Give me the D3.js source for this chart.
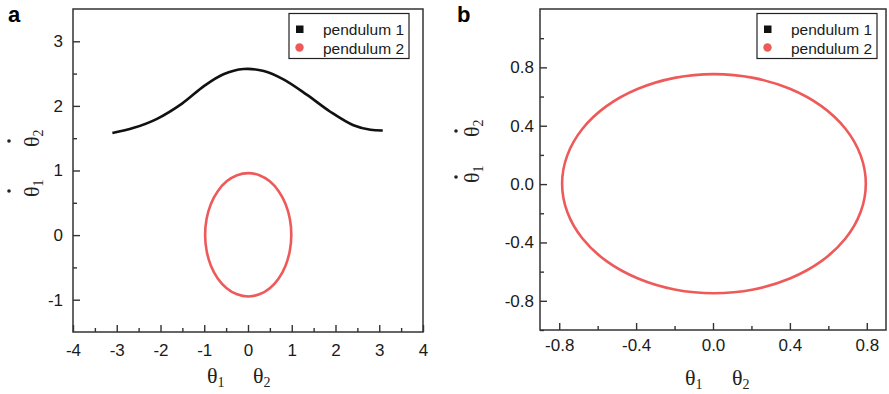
<!DOCTYPE html>
<html>
<head>
<meta charset="utf-8">
<script src="https://cdn.jsdelivr.net/npm/d3@7"></script>
<style>
    body { margin: 0; background: #fff; }
    svg { display: block; }
    .tick text { font-family: "Liberation Sans", Arial, sans-serif; font-size: 17px; fill: #1a1a1a; }
    .tick line { stroke: #333; stroke-width: 1.4; }
</style>
</head>
<body>
<svg id="chart" width="889" height="394"></svg>
<script>
// Panel a: ticks
const xTicksA = [-4, -3, -2, -1, 0, 1, 2, 3, 4];
const xMinorA = [-3.5, -2.5, -1.5, -0.5, 0.5, 1.5, 2.5, 3.5];
const yTicksA = [-1, 0, 1, 2, 3];
const yMinorA = [-0.5, 0.5, 1.5, 2.5];

// Panel a: pendulum 1 (theta, theta dot)
const pend1A = [
    [-3.10, 1.58], [-2.61, 1.66], [-2.08, 1.80], [-1.50, 2.04], [-1.00, 2.31],
    [-0.56, 2.49], [-0.10, 2.57], [0.36, 2.54], [0.81, 2.41], [1.35, 2.17],
    [1.88, 1.91], [2.41, 1.70], [2.80, 1.63], [3.08, 1.62]
];

// Panel a: pendulum 2 closed orbit
const pend2A = [
    [0.99, 0.005], [0.956, 0.252], [0.858, 0.483], [0.701, 0.680], [0.498, 0.832],
    [0.260, 0.927], [0.005, 0.960], [-0.250, 0.927], [-0.488, 0.832], [-0.691, 0.680],
    [-0.848, 0.483], [-0.946, 0.252], [-0.98, 0.005], [-0.946, -0.242], [-0.848, -0.473],
    [-0.691, -0.670], [-0.488, -0.822], [-0.250, -0.917], [0.005, -0.950], [0.260, -0.917],
    [0.498, -0.822], [0.701, -0.670], [0.858, -0.473], [0.956, -0.242]
];

// Panel b: ticks
const xTicksB = [-0.8, -0.4, 0.0, 0.4, 0.8];
const xMinorB = [-0.6, -0.2, 0.2, 0.6];
const yTicksB = [-0.8, -0.4, 0.0, 0.4, 0.8];
const yMinorB = [-1.0, -0.6, -0.2, 0.2, 0.6, 1.0];

// Panel b: pendulum 2 closed orbit
const pend2B = [
    [0.795, 0.003], [0.768, 0.197], [0.689, 0.379], [0.564, 0.534], [0.400, 0.653],
    [0.210, 0.728], [0.005, 0.754], [-0.200, 0.728], [-0.390, 0.653], [-0.554, 0.534],
    [-0.679, 0.379], [-0.758, 0.197], [-0.785, 0.003], [-0.758, -0.191], [-0.679, -0.373],
    [-0.554, -0.528], [-0.390, -0.647], [-0.200, -0.722], [0.005, -0.748], [0.210, -0.722],
    [0.400, -0.647], [0.564, -0.528], [0.689, -0.373], [0.768, -0.191]
];

const legendLabels = ['pendulum 1', 'pendulum 2'];
const black = '#111';
const red = '#ee5a5a';

const svg = d3.select('#chart');

const panels = [
    {
        letter: 'a', letterX: 8,
        left: 73, right: 423, top: 9, bottom: 332,
        xDomain: [-4, 4], yDomain: [-1.5, 3.5],
        xTicks: xTicksA, xMinor: xMinorA, yTicks: yTicksA, yMinor: yMinorA,
        fmt: d => String(d), xPad: 12, yPad: 10,
        open: [pend1A], closed: [pend2A],
        legend: { x: 289, y: 13.5 },
        xLabel: { x1: 207, x2: 253, y: 383 },
        yLabel: { base: 39, y1: 197, y2: 147, dot: 9 }
    },
    {
        letter: 'b', letterX: 457,
        left: 540, right: 886, top: 9, bottom: 330,
        xDomain: [-0.9, 0.9], yDomain: [-1, 1.2],
        xTicks: xTicksB, xMinor: xMinorB, yTicks: yTicksB, yMinor: yMinorB,
        fmt: d => d.toFixed(1), xPad: 9, yPad: 6,
        open: [], closed: [pend2B],
        legend: { x: 757, y: 13.5 },
        xLabel: { x1: 685, x2: 732, y: 385 },
        yLabel: { base: 479, y1: 183, y2: 137, dot: 456 }
    }
];

// theta with subscript, drawn at (x, y) in the given group
function theta(g, x, y, sub) {
    const t = g.append('text')
        .attr('x', x).attr('y', y)
        .style('font-family', '"Liberation Serif", "Times New Roman", serif')
        .style('font-size', '22px')
        .attr('fill', '#222');
    t.append('tspan').text('θ');
    t.append('tspan').attr('dy', 4).style('font-size', '14px').text(sub);
}

panels.forEach(p => {
    const x = d3.scaleLinear().domain(p.xDomain).range([p.left, p.right]);
    const y = d3.scaleLinear().domain(p.yDomain).range([p.bottom, p.top]);

    // minor ticks
    svg.append('g').attr('transform', `translate(0,${p.bottom})`)
        .call(d3.axisBottom(x).tickValues(p.xMinor).tickSize(-4).tickFormat(() => ''))
        .call(g => g.select('.domain').remove());
    svg.append('g').attr('transform', `translate(${p.left},0)`)
        .call(d3.axisLeft(y).tickValues(p.yMinor).tickSize(-4).tickFormat(() => ''))
        .call(g => g.select('.domain').remove());

    // major ticks
    svg.append('g').attr('transform', `translate(0,${p.bottom})`)
        .call(d3.axisBottom(x).tickValues(p.xTicks).tickSize(-7).tickPadding(p.xPad).tickFormat(p.fmt))
        .call(g => g.select('.domain').remove());
    svg.append('g').attr('transform', `translate(${p.left},0)`)
        .call(d3.axisLeft(y).tickValues(p.yTicks).tickSize(-7).tickPadding(p.yPad).tickFormat(p.fmt))
        .call(g => g.select('.domain').remove());

    // frame
    svg.append('rect')
        .attr('x', p.left).attr('y', p.top)
        .attr('width', p.right - p.left).attr('height', p.bottom - p.top)
        .attr('fill', 'none').attr('stroke', '#333').attr('stroke-width', 1.5);

    const openLine = d3.line().x(d => x(d[0])).y(d => y(d[1])).curve(d3.curveCatmullRom.alpha(0.5));
    const closedLine = d3.line().x(d => x(d[0])).y(d => y(d[1])).curve(d3.curveCardinalClosed.tension(0));

    p.open.forEach(series => {
        svg.append('path').datum(series)
            .attr('d', openLine)
            .attr('fill', 'none').attr('stroke', black).attr('stroke-width', 2.6);
    });
    p.closed.forEach(series => {
        svg.append('path').datum(series)
            .attr('d', closedLine)
            .attr('fill', 'none').attr('stroke', red).attr('stroke-width', 2.6);
    });

    // legend
    const lg = svg.append('g').attr('transform', `translate(${p.legend.x},${p.legend.y})`);
    lg.append('rect').attr('width', 120).attr('height', 45)
        .attr('fill', '#fff').attr('stroke', '#222').attr('stroke-width', 1.2);
    lg.append('rect').attr('x', 7).attr('y', 12).attr('width', 7.5).attr('height', 7.5).attr('fill', black);
    lg.append('circle').attr('cx', 10.5).attr('cy', 34).attr('r', 4.2).attr('fill', red);
    legendLabels.forEach((name, i) => {
        lg.append('text')
            .attr('x', 34).attr('y', 16 + i * 19).attr('dy', '0.35em')
            .style('font-family', '"Liberation Sans", Arial, sans-serif')
            .style('font-size', '15.5px').attr('fill', '#1a1a1a')
            .text(name);
    });

    // panel letter
    svg.append('text').attr('x', p.letterX).attr('y', 22)
        .style('font-family', '"Liberation Sans", Arial, sans-serif')
        .style('font-size', '22px').style('font-weight', 'bold')
        .text(p.letter);

    // x label
    theta(svg, p.xLabel.x1, p.xLabel.y, '1');
    theta(svg, p.xLabel.x2, p.xLabel.y, '2');

    // y label, rotated; local (lx, ly) -> page (base + ly, 0 - lx)
    const yl = svg.append('g').attr('transform', `translate(${p.yLabel.base},0) rotate(-90)`);
    theta(yl, -p.yLabel.y1, 0, '1');
    theta(yl, -p.yLabel.y2, 0, '2');
    [p.yLabel.y1, p.yLabel.y2].forEach(py => {
        yl.append('circle').attr('cx', -py + 6).attr('cy', p.yLabel.dot - p.yLabel.base)
            .attr('r', 1.8).attr('fill', '#222');
    });
});
</script>
</body>
</html>
